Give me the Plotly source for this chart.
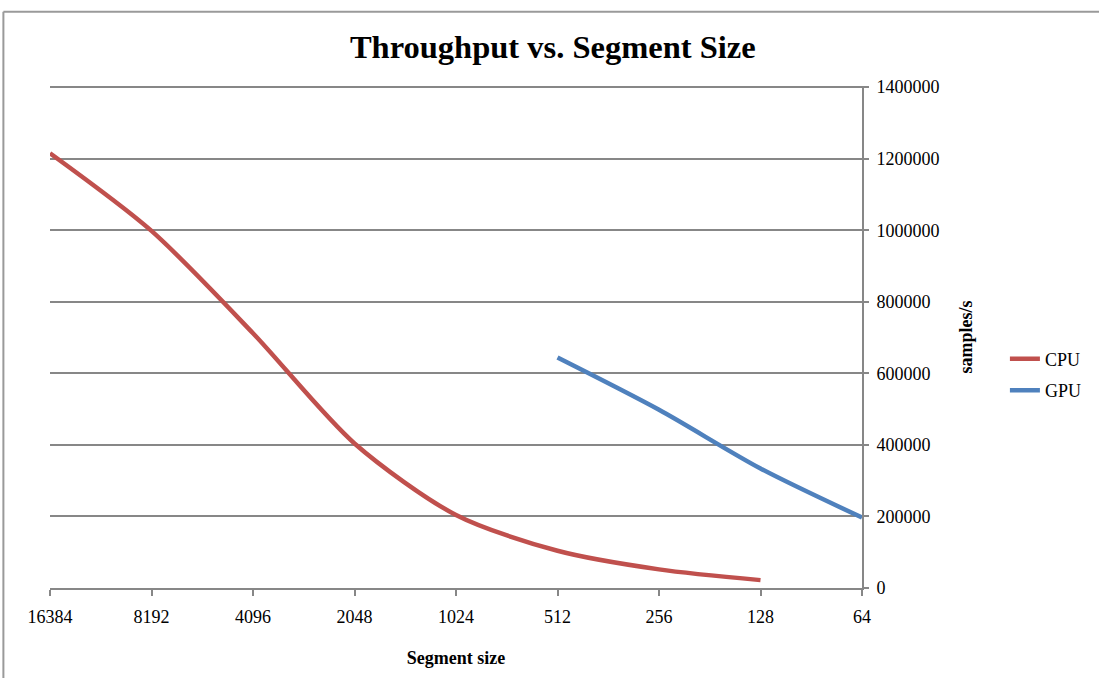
import plotly.graph_objects as go

categories = ["16384", "8192", "4096", "2048", "1024", "512", "256", "128", "64"]
cpu_values = [1215000, 998000, 712000, 404000, 204000, 104000, 52000, 22000, None]
gpu_values = [None, None, None, None, None, 644000, 498000, 334000, 197000]
y_ticks = [0, 200000, 400000, 600000, 800000, 1000000, 1200000, 1400000]

FONT = "Liberation Serif, Times New Roman, serif"
GRID = "#878787"

fig = go.Figure()
fig.add_trace(go.Scatter(x=categories, y=cpu_values, name="CPU", mode="lines",
                         line=dict(color="#C0504D", width=4.5, shape="spline", smoothing=0.8),
                         legendgroup="cpu"))
fig.add_trace(go.Scatter(x=categories, y=gpu_values, name="GPU", mode="lines",
                         line=dict(color="#4F81BD", width=4.5, shape="spline", smoothing=0.8),
                         legendgroup="gpu"))

fig.update_layout(
    width=1099, height=678,
    margin=dict(l=50, r=237, t=86, b=90),
    paper_bgcolor="white", plot_bgcolor="white",
    font=dict(family=FONT, size=18, color="black"),
    title=dict(text="<b>Throughput vs. Segment Size</b>", x=0.503, xanchor="center",
               y=0.931, yanchor="middle", font=dict(family=FONT, size=32.5, color="black")),
    showlegend=True,
    legend=dict(x=1.176, xanchor="left", y=0.425, yanchor="middle",
                font=dict(family=FONT, size=18, color="black"),
                tracegroupgap=5, bgcolor="rgba(0,0,0,0)"),
    xaxis=dict(type="category", categoryorder="array", categoryarray=categories,
               range=[0, len(categories) - 1], showgrid=False,
               showline=True, linecolor=GRID, linewidth=2,
               ticks="outside", ticklen=6, tickwidth=2, tickcolor=GRID,
               ticklabelstandoff=5,
               tickfont=dict(family=FONT, size=18),
               title=dict(text="<b>Segment size</b>", font=dict(family=FONT, size=18), standoff=26),
               zeroline=False),
    yaxis=dict(side="right", range=[0, 1403000], tickvals=y_ticks,
               ticktext=[str(v) for v in y_ticks],
               showgrid=True, gridcolor=GRID, gridwidth=2,
               showline=True, linecolor=GRID, linewidth=2,
               ticks="outside", ticklen=5, tickwidth=2, tickcolor=GRID,
               ticklabelstandoff=4,
               tickfont=dict(family=FONT, size=18),
               title=dict(text="<b>samples/s</b>", font=dict(family=FONT, size=18), standoff=21),
               zeroline=False),
    shapes=[
        dict(type="line", xref="paper", yref="paper", x0=-0.0574, x1=1.4, y0=1.1477, y1=1.1477,
             line=dict(color="#9a9a9a", width=2)),
        dict(type="line", xref="paper", yref="paper", x0=-0.0574, x1=-0.0574, y0=1.1477, y1=-0.3,
             line=dict(color="#9a9a9a", width=2)),
    ],
)

fig.write_html("out.html")
